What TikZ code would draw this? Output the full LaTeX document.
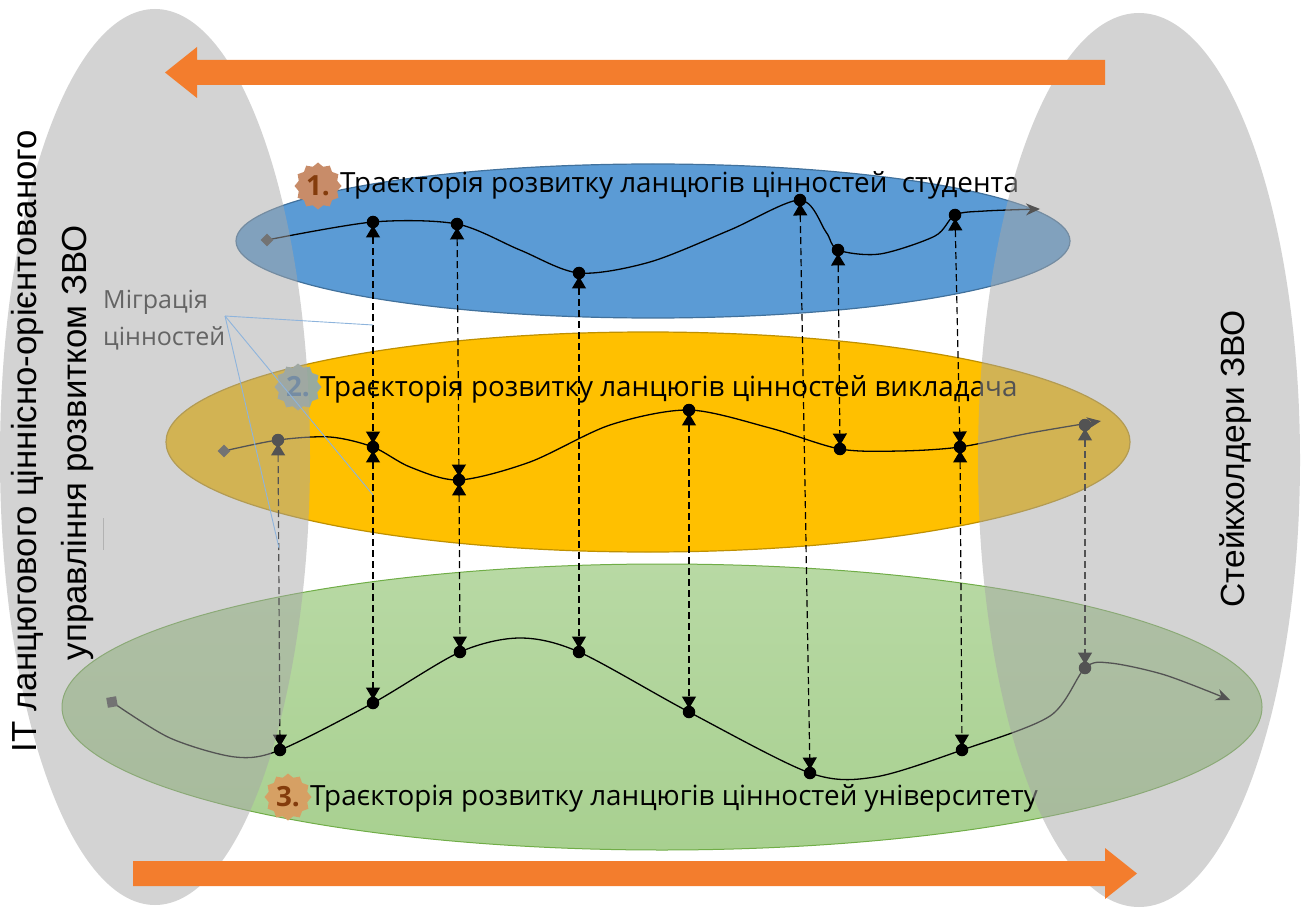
\documentclass[tikz,border=0pt]{standalone}
\usepackage{fontspec}
\setmainfont{Open Sans}
\newfontfamily\arialf{Liberation Sans}
\usetikzlibrary{arrows.meta,shapes.geometric}
\definecolor{blueE}{RGB}{91,155,213}
\definecolor{blueB}{RGB}{65,113,156}
\definecolor{yelE}{RGB}{255,192,0}
\definecolor{yelB}{RGB}{191,144,0}
\definecolor{grnT}{RGB}{184,217,164}
\definecolor{grnM}{RGB}{168,208,144}
\definecolor{grnB}{RGB}{112,173,71}
\definecolor{ovl}{RGB}{167,167,167}
\definecolor{orangeA}{RGB}{243,125,45}
\definecolor{brownT}{RGB}{132,60,12}
\definecolor{blueT}{RGB}{68,114,160}
\definecolor{bad1}{RGB}{200,140,105}
\definecolor{bad2}{RGB}{152,170,158}
\definecolor{bad3}{RGB}{214,160,100}
\definecolor{callout}{RGB}{142,180,220}
\definecolor{migr}{RGB}{100,100,100}
\definecolor{mark}{RGB}{64,64,64}
\tikzset{
  traj/.style={line width=1.3pt, draw=black},
  trajend/.style={traj, -{Stealth[length=14pt,width=12pt]}},
  dot/.style={circle, fill=black, inner sep=0pt, minimum size=12.5pt},
  startdia/.style={diamond, fill=mark, inner sep=0pt, minimum size=13pt},
  startsq/.style={rectangle, fill=mark, inner sep=0pt, minimum size=10pt, rotate=10},
  conn/.style={line width=1.2pt, dash pattern=on 7pt off 4pt,
    {Triangle[length=12pt,width=14pt]}-{Triangle[length=12pt,width=14pt]},
    shorten <=-3pt, shorten >=-3pt},
  ttext/.style={anchor=base west, inner sep=0pt, font=\fontsize{27.8}{32}\selectfont},
  badge/.style={star, star points=12, star point ratio=1.18, minimum size=47pt, inner sep=0pt,
    font=\fontsize{27.8}{32}\selectfont\bfseries},
  vtextL/.style={rotate=90, anchor=base, inner sep=0pt, font=\arialf\fontsize{34.8}{40}\selectfont},
  vtextR/.style={rotate=90, anchor=base, inner sep=0pt, font=\arialf\fontsize{33.5}{40}\selectfont},
  oarrow/.style={fill=orangeA, draw=none},
  cline/.style={draw=callout, line width=0.9pt}
}
\begin{document}
\begin{tikzpicture}[x=1pt,y=-1pt]
\useasboundingbox (0,0) rectangle (1306,909);
% layer ellipses
\shade[top color=grnT, bottom color=grnM] (662,707) ellipse [x radius=600, y radius=143];
\draw[grnB, line width=1pt] (662,707) ellipse [x radius=600, y radius=143];
\draw[fill=yelE, draw=yelB, line width=1.2pt] (648,442) ellipse [x radius=482, y radius=110];
\draw[fill=blueE, draw=blueB, line width=1.2pt] (653,241) ellipse [x radius=417, y radius=77];

% coordinates of trajectory points
\coordinate (b0) at (267,240);
\coordinate (b1) at (373,222);
\coordinate (b2) at (457,224);
\coordinate (b3) at (579,273);
\coordinate (b4) at (800,200);
\coordinate (b5) at (838,250);
\coordinate (b6) at (955,215);
\coordinate (be) at (1040,209);
\coordinate (y0) at (224,451);
\coordinate (y1) at (278,440);
\coordinate (y2) at (373,447);
\coordinate (y3) at (459,480);
\coordinate (y4) at (689,410);
\coordinate (y5) at (840,449);
\coordinate (y6) at (960,447);
\coordinate (y7) at (1085,425);
\coordinate (ye) at (1101,421);
\coordinate (g0) at (112,702);
\coordinate (g1) at (280,750);
\coordinate (g2) at (373,703);
\coordinate (g3) at (460,652);
\coordinate (g4) at (579,652);
\coordinate (g5) at (689,712);
\coordinate (g6) at (810,773);
\coordinate (g7) at (962,750);
\coordinate (g8) at (1085,668);
\coordinate (ge) at (1230,700);

% trajectories
\draw[trajend] plot[smooth, tension=0.5] coordinates {(b0) (b1) (b2) (520,250) (b3) (650,262) (730,230) (b4) (826,232) (b5) (880,254) (935,236) (b6) (985,211) (be)};
\draw[trajend] plot[smooth, tension=0.5] coordinates {(y0) (y1) (330,437) (y2) (410,467) (y3) (530,462) (610,425) (y4) (770,428) (y5) (900,451) (y6) (1030,433) (ye)};
\draw[trajend] plot[smooth, tension=0.5] coordinates {(g0) (170,738) (235,757) (g1) (g2) (g3) (520,638) (g4) (g5) (g6) (875,777) (g7) (1050,716) (g8) (1110,663) (1165,675) (ge)};

% markers
\node[startdia] (B0) at (b0) {};
\node[startdia] (Y0) at (y0) {};
\node[startsq] (G0) at (g0) {};
\foreach \n in {b1,b2,b3,b4,b5,b6,y1,y2,y3,y4,y5,y6,y7,g1,g2,g3,g4,g5,g6,g7,g8}{
  \node[dot] (N\n) at (\n) {};
}

% migration connectors
\draw[conn] (Nb1) -- (Ny2);
\draw[conn] (Ny2) -- (Ng2);
\draw[conn] (Nb2) -- (Ny3);
\draw[conn] (Ny3) -- (Ng3);
\draw[conn] (Nb3) -- (Ng4);
\draw[conn] (Ny4) -- (Ng5);
\draw[conn] (Nb4) -- (Ng6);
\draw[conn] (Nb5) -- (Ny5);
\draw[conn] (Nb6) -- (Ny6);
\draw[conn] (Ny6) -- (Ng7);
\draw[conn] (Ny1) -- (Ng1);
\draw[conn] (Ny7) -- (Ng8);

% badges and titles
\node[badge, fill=bad1, text=brownT] (S1) at (318,186) {1.};
\node[ttext] (T1) at (340,193) {Траєкторія розвитку ланцюгів цінностей\ \ студента};
\node[badge, fill=bad2, text=blueT] (S2) at (298,387) {2.};
\node[ttext] (T2) at (320,396) {Траєкторія розвитку ланцюгів цінностей викладача};
\node[badge, fill=bad3, text=brownT] (S3) at (288,797) {3.};
\node[ttext] (T3) at (310,805) {Траєкторія розвитку ланцюгів цінностей університету};

% grey overlays
\fill[ovl, fill opacity=0.5] (155,457) ellipse [x radius=155, y radius=448];
\fill[ovl, fill opacity=0.5] (1139,460) ellipse [x radius=161, y radius=447];

% callout
\coordinate (m0) at (225,316);
\coordinate (m1) at (373,325);
\coordinate (m2) at (373,495);
\coordinate (m3) at (279,548);
\draw[cline] (m0) -- (m1);
\draw[cline] (m0) -- (m2);
\draw[cline] (m0) -- (m3);
\node[anchor=west, align=left, inner sep=0pt, text=migr, font=\fontsize{25}{37}\selectfont] (MT) at (103,320) {Міграція\\цінностей};
\coordinate (l0) at (103,518);
\coordinate (l1) at (103,550);
\draw[gray!60, line width=0.8pt] (l0) -- (l1);

% orange arrows
\fill[oarrow] (1105,60) -- (197,60) -- (197,47) -- (165,72.5) -- (197,98) -- (197,85) -- (1105,85) -- cycle;
\fill[oarrow] (133,861) -- (1105,861) -- (1105,848) -- (1137,873.5) -- (1105,899) -- (1105,886) -- (133,886) -- cycle;

% side texts
\node[vtextL] (L1) at (36,441) {IT ланцюгового ціннісно-орієнтованого};
\node[vtextL] (L2) at (86,443) {управління розвитком ЗВО};
\node[vtextR] (R1) at (1244,459) {Стейкхолдери ЗВО};
\end{tikzpicture}
\end{document}
